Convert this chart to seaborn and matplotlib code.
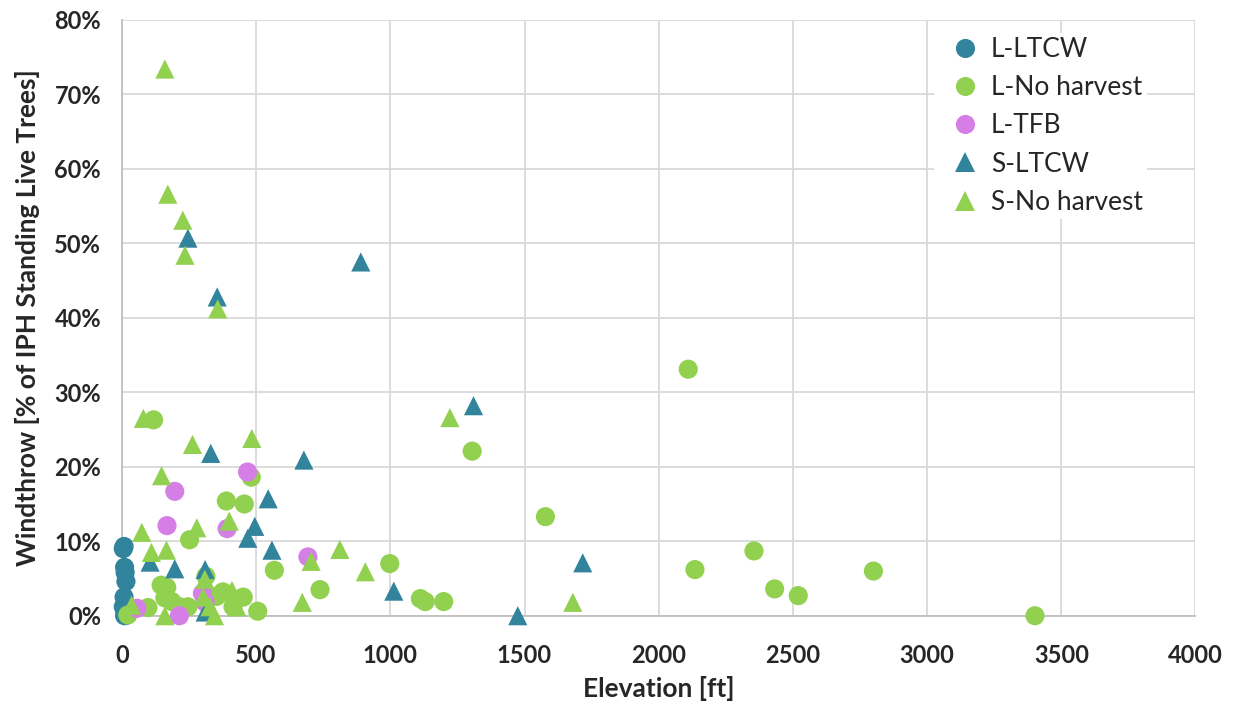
import pandas as pd
import numpy as np
import matplotlib
matplotlib.use('Agg')
import matplotlib.pyplot as plt
import seaborn as sns
from matplotlib.ticker import FuncFormatter

# Datos (elevacion en ft, windthrow en %)
l_ltcw_x = [5, 8, 10, 12, 15, 8, 5, 12, 18, 10]
l_ltcw_y = [9.0, 9.3, 6.5, 5.8, 4.6, 2.5, 1.2, 0.5, 0.1, 0.0]

l_noharv_x = [2110, 1305, 1578, 2355, 2135, 2432, 2520, 2800, 3402, 998, 1112, 1130, 1199,
              738, 568, 506, 482, 456, 389, 118, 252, 452, 146, 167, 160, 186, 97, 216,
              246, 313, 376, 353, 22, 414]
l_noharv_y = [33.1, 22.1, 13.3, 8.7, 6.2, 3.6, 2.7, 6.0, 0.0, 7.0, 2.3, 1.9, 1.9,
              3.5, 6.1, 0.6, 18.6, 15.0, 15.4, 26.3, 10.2, 2.5, 4.1, 3.8, 2.4, 1.9, 1.1, 1.2,
              1.2, 5.3, 3.2, 2.6, 0.1, 1.2]

l_tfb_x = [468, 197, 168, 392, 693, 300, 310, 56, 214]
l_tfb_y = [19.3, 16.7, 12.1, 11.7, 7.9, 3.0, 1.8, 1.0, 0.0]

s_ltcw_x = [246, 355, 890, 1310, 331, 678, 545, 495, 469, 559, 105, 197, 310, 1013, 1475, 1717, 310]
s_ltcw_y = [50.7, 42.8, 47.5, 28.2, 21.8, 20.9, 15.7, 12.0, 10.4, 8.8, 7.2, 6.3, 6.2, 3.3, 0.0, 7.1, 0.5]

s_noharv_x = [160, 171, 227, 235, 357, 1222, 80, 263, 484, 148, 400, 279, 74, 110, 166,
              812, 705, 907, 672, 1680, 160, 345, 309, 36, 410, 303, 328, 428]
s_noharv_y = [73.4, 56.6, 53.1, 48.4, 41.2, 26.6, 26.5, 23.0, 23.8, 18.8, 12.7, 11.8, 11.2, 8.5, 8.8,
              8.9, 7.3, 5.9, 1.8, 1.8, 0.0, 0.0, 4.9, 1.4, 3.4, 2.5, 1.2, 1.2]

groups = ['L-LTCW', 'L-No harvest', 'L-TFB', 'S-LTCW', 'S-No harvest']
colores = {'L-LTCW': '#31849B', 'L-No harvest': '#92D050', 'L-TFB': '#D57FE6',
           'S-LTCW': '#31849B', 'S-No harvest': '#92D050'}
marcadores = {'L-LTCW': 'o', 'L-No harvest': 'o', 'L-TFB': 'o', 'S-LTCW': '^', 'S-No harvest': '^'}

xs = [l_ltcw_x, l_noharv_x, l_tfb_x, s_ltcw_x, s_noharv_x]
ys = [l_ltcw_y, l_noharv_y, l_tfb_y, s_ltcw_y, s_noharv_y]
df = pd.concat([pd.DataFrame({'Elevation': x, 'Windthrow': y, 'Group': g})
                for g, x, y in zip(groups, xs, ys)], ignore_index=True)

sns.set_style('white')
plt.rcParams['font.family'] = ['Lato', 'DejaVu Sans']

fig, ax = plt.subplots(figsize=(12.44, 7.11), dpi=100)
fig.subplots_adjust(left=0.098, right=0.961, top=0.972, bottom=0.134)

sns.scatterplot(data=df, x='Elevation', y='Windthrow', hue='Group', style='Group',
                hue_order=groups, style_order=groups, palette=colores, markers=marcadores,
                s=190, linewidth=0, alpha=1, ax=ax, zorder=3)
for coll in ax.collections:
    coll.set_clip_on(False)

ax.set_xlim(0, 4000)
ax.set_ylim(0, 80)
ax.set_xticks(range(0, 4001, 500))
ax.set_yticks(range(0, 81, 10))
ax.yaxis.set_major_formatter(FuncFormatter(lambda v, p: f'{v:.0f}%'))
ax.grid(True, color='#D9D9D9', linewidth=1.3)
ax.set_axisbelow(True)
for side in ['top', 'right']:
    ax.spines[side].set_visible(False)
for side in ['left', 'bottom']:
    ax.spines[side].set_color('#BFBFBF')
    ax.spines[side].set_linewidth(1.3)
ax.tick_params(axis='x', length=0, pad=20)
ax.tick_params(axis='y', length=0, pad=15)
for lbl in ax.get_xticklabels() + ax.get_yticklabels():
    lbl.set_fontsize(17)
    lbl.set_fontweight('bold')

ax.set_xlabel('Elevation [ft]', fontsize=19, fontweight='bold', labelpad=7)
ax.set_ylabel('Windthrow [% of IPH Standing Live Trees]', fontsize=19, fontweight='bold', labelpad=10)

leg = ax.legend(loc='upper right', bbox_to_anchor=(0.967, 1.0), fontsize=19, frameon=True,
                framealpha=1, edgecolor='white', fancybox=False, borderpad=0.15,
                labelspacing=0.5, handletextpad=0.0, markerscale=1.0)
leg.get_frame().set_linewidth(0)
leg.set_zorder(5)

plt.savefig('out.png', dpi=100)
plt.close()
